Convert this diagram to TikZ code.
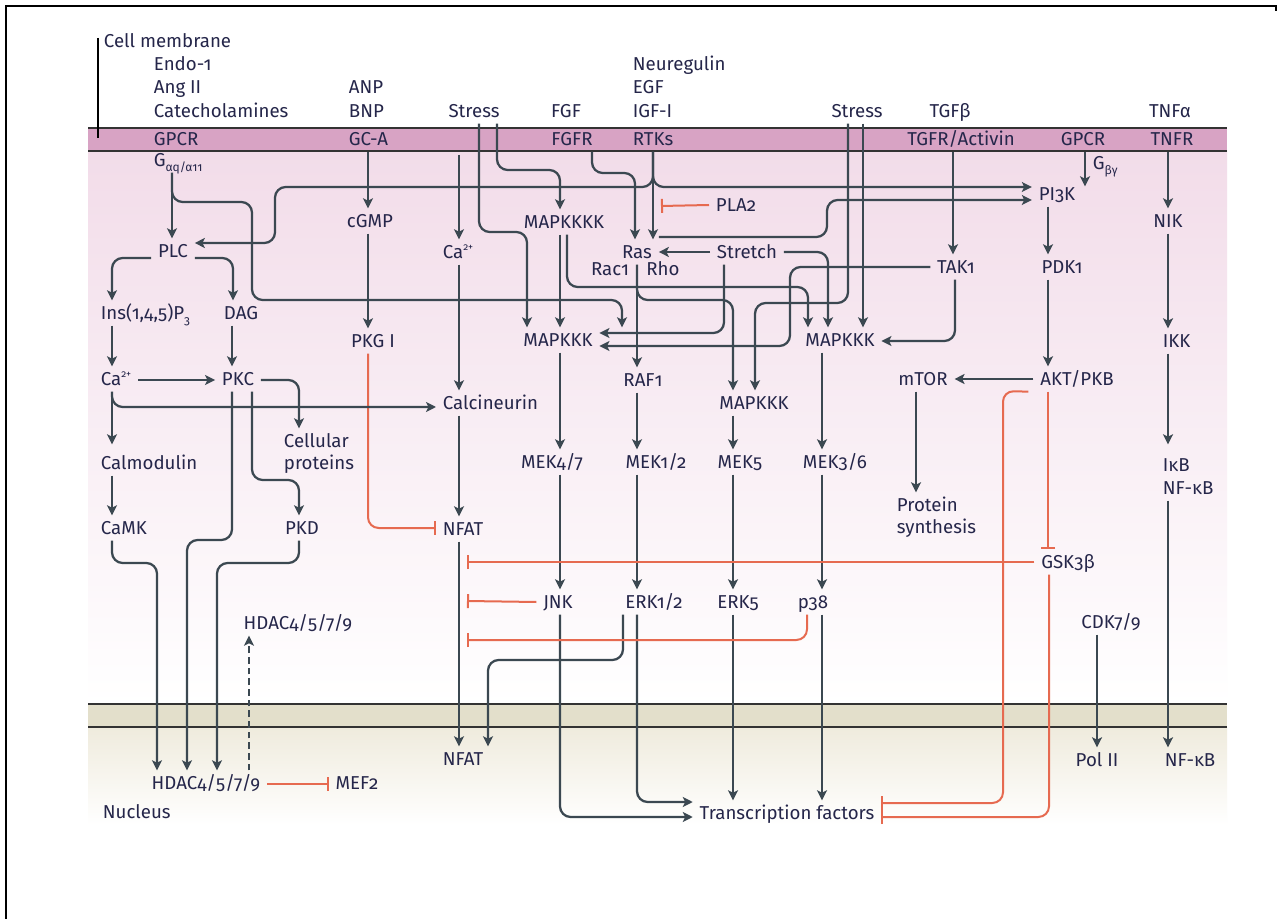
\documentclass[tikz,border=0pt]{standalone}
\usepackage{fontspec}
\setmainfont{Fira Sans}[Numbers=OldStyle]
\usetikzlibrary{arrows.meta,calc}
\definecolor{ln}{HTML}{3B4851}
\definecolor{rd}{HTML}{E66A50}
\definecolor{tx}{HTML}{25264A}
\definecolor{memb}{HTML}{D8A3C4}
\definecolor{cyto}{HTML}{F2DCE9}
\definecolor{nucband}{HTML}{E3DFCB}
\definecolor{nucl}{HTML}{EFEBDD}
\definecolor{bord}{HTML}{333333}
\newcommand\labfont{\fontsize{14}{16.5}\selectfont}
\newcommand\mysub[1]{\raisebox{-0.3em}{\fontsize{9}{10}\selectfont #1}}
\newcommand\mysup[1]{\raisebox{0.42em}{\fontsize{7.5}{8}\selectfont #1}}
\begin{document}
\begin{tikzpicture}[x=0.75pt,y=-0.75pt,
  lab/.style={font=\labfont, text=tx, inner xsep=5pt, inner ysep=4.5pt, text height=9.6pt, text depth=0pt},
  L/.style={lab, anchor=west},
  arr/.style={draw=ln, line width=1.7pt, rounded corners=8pt, -{Stealth[length=7.5pt,width=7.5pt,inset=1.8pt]}},
  inh/.style={draw=rd, line width=1.5pt, rounded corners=8pt, -{Bar[width=10.5pt,line width=1.5pt]}},
  dsh/.style={arr, dash pattern=on 5pt off 3pt}]
\useasboundingbox (0,0) rectangle (1281,919);
\fill[white] (0,0) rectangle (1281,919);
% backgrounds
\shade[top color=cyto, bottom color=white] (88,151) rectangle (1227,704);
\fill[memb] (88,128) rectangle (1227,151);
\draw[bord, line width=1.2pt] (88,128) -- (1227,128) (88,151) -- (1227,151);
\shade[top color=nucl, bottom color=white] (88,727) rectangle (1227,825);
\fill[nucband] (88,704) rectangle (1227,727);
\draw[bord, line width=1.2pt] (88,704) -- (1227,704) (88,727) -- (1227,727);
% frame
\draw[black, line width=1.5pt] (6,919) -- (6,6) -- (1276,6) -- (1276,11);
\draw[black, line width=1pt] (98,38) -- (98,138);

% ---- nodes
\node[L] (cellmem) at (97,41) {Cell membrane};
\node[L] (endo) at (147,64) {Endo-1};
\node[L] (angii) at (147,87) {Ang II};
\node[L] (catech) at (147,111) {Catecholamines};
\node[L] (gpcrA) at (147,139) {GPCR};
\node[L] (gq) at (147,160) {G\mysub{αq/α11}};
\node[L] (anp) at (342,87) {ANP};
\node[L] (bnp) at (342,111) {BNP};
\node[L] (gca) at (342,139) {GC-A};
\node[lab] (stressA) at (474,111) {Stress};
\node[lab] (fgf) at (566,111) {FGF};
\node[lab] (fgfr) at (572,139) {FGFR};
\node[L] (neureg) at (626,64) {Neuregulin};
\node[L] (egf) at (626,87) {EGF};
\node[L] (igf) at (626,111) {IGF-I};
\node[L] (rtks) at (626,139) {RTKs};
\node[lab] (stressB) at (857,111) {Stress};
\node[lab] (tgfb) at (950,111) {TGFβ};
\node[lab] (tgfr) at (961,139) {TGFR/Activin};
\node[lab] (gpcrB) at (1083,139) {GPCR};
\node[lab] (tnfa) at (1170,111) {TNFα};
\node[lab] (tnfr) at (1172,139) {TNFR};
\node[L] (gby) at (1086,163) {G\mysub{βγ}};

\node[lab] (pi3k) at (1057,194) {PI3K};
\node[lab] (nik) at (1168,221) {NIK};
\node[L] (pla2) at (709,205) {PLA2};
\node[lab] (cgmp) at (370,221) {cGMP};
\node[lab] (mapkkkk) at (564,222) {MAPKKKK};
\node[lab] (plc) at (173,251) {PLC};
\node[L] (camid) at (436,252) {Ca\mysup{2+}};
\node[lab] (ras) at (637,252) {Ras};
\node[lab] (stretch) at (747,252) {Stretch};
\node[lab] (rac1) at (610,269) {Rac1};
\node[lab] (rho) at (663,269) {Rho};
\node[lab] (tak1) at (956,267) {TAK1};
\node[lab] (pdk1) at (1062,267) {PDK1};
\node[L] (ins) at (94,313) {Ins(1,4,5)P\mysub{3}};
\node[lab] (dag) at (241,313) {DAG};
\node[lab] (pkgi) at (373,341) {PKG I};
\node[lab] (mapkkkA) at (558,340) {MAPKKK};
\node[lab] (mapkkkC) at (840,340) {MAPKKK};
\node[L] (ikk) at (1156,341) {IKK};
\node[L] (caleft) at (94,379) {Ca\mysup{2+}};
\node[lab] (pkc) at (238,379) {PKC};
\node[lab] (raf1) at (643,380) {RAF1};
\node[lab] (mtor) at (923,379) {mTOR};
\node[lab] (akt) at (1077,379) {AKT/PKB};
\node[L] (calcin) at (436,403) {Calcineurin};
\node[lab] (mapkkkB) at (754,403) {MAPKKK};
\node[L] (cellpA) at (277,441) {Cellular};
\node[L] (cellpB) at (277,463) {proteins};
\node[L] (calmod) at (94,463) {Calmodulin};
\node[lab] (mek47) at (552,462) {MEK4/7};
\node[lab] (mek12) at (656,462) {MEK1/2};
\node[lab] (mek5) at (740,462) {MEK5};
\node[lab] (mek36) at (835,462) {MEK3/6};
\node[L] (ikbA) at (1156,465) {IκB};
\node[L] (ikbB) at (1156,488) {NF-κB};
\node[L] (protA) at (890,505) {Protein};
\node[L] (protB) at (890,527) {synthesis};
\node[L] (camk) at (94,528) {CaMK};
\node[lab] (pkd) at (302,528) {PKD};
\node[L] (nfat1) at (436,529) {NFAT};
\node[lab] (gsk) at (1068,562) {GSK3β};
\node[lab] (jnk) at (558,602) {JNK};
\node[lab] (erk12) at (654,602) {ERK1/2};
\node[lab] (erk5) at (738,602) {ERK5};
\node[lab] (p38) at (813,602) {p38};
\node[lab] (hdac1) at (298,623) {HDAC4/5/7/9};
\node[lab] (cdk) at (1111,622) {CDK7/9};
\node[L] (nfat2) at (436,759) {NFAT};
\node[lab] (pol) at (1097,760) {Pol II};
\node[lab] (nfkb2) at (1190,760) {NF-κB};
\node[lab] (hdac2) at (206,783) {HDAC4/5/7/9};
\node[lab] (mef2) at (357,783) {MEF2};
\node[lab] (tf) at (787,813) {Transcription factors};
\node[L] (nucleus) at (96,812) {Nucleus};

\coordinate (memCa) at (459,155);
\coordinate (pla2t) at (661,206);
\coordinate (nfA) at (467,562);
\coordinate (nfB) at (467,601);
\coordinate (nfC) at (467,640);

% ---- connectors: left part
\draw[arr] (gq.south -| 172,0) -- (plc.north -| 172,0);
\draw[arr] (gq.south -| 172,0) -- (172,202) -- (252,202) -- (252,300) -- (622,300) -- (mapkkkA.north -| 622,0);
\draw[arr] (rtks.south -| 653,0) -- (ras.north -| 653,0);
\draw[arr] (rtks.south -| 653,0) -- (653,187) -- (275,187) -- (275,243) -- (plc.east |- 0,243);
\draw[arr] (rtks.south -| 653,0) -- (653,187) -- (pi3k.west |- 0,187);
\draw[inh] (pla2.west) -- (pla2t);
\draw[arr] (fgfr.south -| 592,0) -- (592,173) -- (635,173) -- (ras.north -| 635,0);
\draw[arr] (stressA.south -| 479,0) -- (479,232) -- (527,232) -- (mapkkkA.north -| 527,0);
\draw[arr] (stressA.south -| 497,0) -- (497,170) -- (560,170) -- (mapkkkk.north -| 560,0);
\draw[arr] (memCa) -- (camid.north -| 459,0);
\draw[arr] (camid.south -| 459,0) -- (calcin.north -| 459,0);
\draw[arr] (calcin.south -| 459,0) -- (nfat1.north -| 459,0);
\draw[arr] (nfat1.south -| 459,0) -- (nfat2.north -| 459,0);
\draw[arr] (gca.south -| 368,0) -- (cgmp.north -| 368,0);
\draw[arr] (cgmp.south -| 368,0) -- (pkgi.north -| 368,0);
\draw[inh] (pkgi.south -| 368,0) -- (368,528) -- (nfat1.west |- 0,528);
\draw[arr] (plc.west |- 0,258) -- (112,258) -- (ins.north -| 112,0);
\draw[arr] (plc.east |- 0,258) -- (233,258) -- (dag.north -| 233,0);
\draw[arr] (ins.south -| 112,0) -- (caleft.north -| 112,0);
\draw[arr] (dag.south -| 232,0) -- (pkc.north -| 232,0);
\draw[arr] (caleft.east |- 0,380) -- (pkc.west |- 0,380);
\draw[arr] (caleft.south -| 112,0) -- (112,407) -- (calcin.west |- 0,407);
\draw[arr] (caleft.south -| 112,0) -- ($(calmod.north -| 112,0)+(0,-6)$);
\draw[arr] (calmod.south -| 112,0) -- (camk.north -| 112,0);
\draw[arr] (camk.south -| 112,0) -- (112,563) -- (157,563) -- (hdac2.north -| 157,0);
\draw[arr] (pkc.south -| 232,0) -- (232,540) -- (187,540) -- (hdac2.north -| 187,0);
\draw[arr] (pkc.south -| 252,0) -- (252,480) -- (299,480) -- (pkd.north -| 299,0);
\draw[arr] (pkc.east |- 0,380) -- (299,380) -- (cellpA.north -| 299,0);
\draw[arr] (pkd.south -| 299,0) -- (299,563) -- (217,563) -- (hdac2.north -| 217,0);
\draw[dsh] (hdac2.north -| 249,0) -- (hdac1.south -| 249,0);
\draw[inh] (hdac2.east |- 0,784) -- (mef2.west |- 0,784);

% ---- MAPK part
\draw[arr] (mapkkkk.south -| 560,0) -- (mapkkkA.north -| 560,0);
\draw[arr] (mapkkkk.south -| 567,0) -- (567,287) -- (808,287) -- (mapkkkC.north -| 808,0);
\draw[arr] (ras.south -| 637,0) -- (raf1.north -| 637,0);
\draw[arr] (ras.south -| 637,0) -- (637,300) -- (733,300) -- (mapkkkB.north -| 733,0);
\draw[arr] (stretch.west) -- (ras.east);
\draw[arr] (stretch.east) -- (828,252) -- (mapkkkC.north -| 828,0);
\draw[arr] (stretch.south -| 724,0) -- (724,333) -- (mapkkkA.east |- 0,333);
\draw[arr] (tak1.west) -- (790,267) -- (790,346) -- (mapkkkA.east |- 0,346);
\draw[arr] (tak1.south -| 955,0) -- (955,341) -- (mapkkkC.east |- 0,341);
\draw[arr] (tgfr.south -| 953,0) -- (tak1.north -| 953,0);
\draw[arr] (stressB.south -| 848,0) -- (848,303) -- (755,303) -- (mapkkkB.north -| 755,0);
\draw[arr] (stressB.south -| 863,0) -- (mapkkkC.north -| 863,0);
\draw[arr] (ras.east |- 0,237) -- (827,237) -- (827,200) -- (pi3k.west |- 0,200);

\draw[arr] (mapkkkA.south -| 560,0) -- (mek47.north -| 560,0);
\draw[arr] (mek47.south -| 560,0) -- (jnk.north -| 560,0);
\draw[arr] (raf1.south -| 637,0) -- (mek12.north -| 637,0);
\draw[arr] (mek12.south -| 637,0) -- (erk12.north -| 637,0);
\draw[arr] (mapkkkB.south -| 733,0) -- (mek5.north -| 733,0);
\draw[arr] (mek5.south -| 733,0) -- (erk5.north -| 733,0);
\draw[arr] (mapkkkC.south -| 822,0) -- (mek36.north -| 822,0);
\draw[arr] (mek36.south -| 822,0) -- (p38.north -| 822,0);
\draw[arr] (erk12.south -| 623,0) -- (623,660) -- (488,660) -- (nfat2.north -| 488,0);
\draw[arr] (erk12.south -| 637,0) -- (637,802) -- (tf.west |- 0,802);
\draw[arr] (jnk.south -| 560,0) -- (560,817) -- (tf.west |- 0,817);
\draw[arr] (erk5.south -| 733,0) -- (tf.north -| 733,0);
\draw[arr] (p38.south -| 822,0) -- (tf.north -| 822,0);
\draw[inh] (gsk.west) -- (nfA);
\draw[inh] (jnk.west) -- (nfB);
\draw[inh] (p38.south -| 807,0) -- (807,640) -- (nfC);

% ---- right part
\draw[arr] (gpcrB.south -| 1085,0) -- ($(pi3k.north -| 1085,0)+(0,5)$);
\draw[arr] (pi3k.south -| 1048,0) -- (pdk1.north -| 1048,0);
\draw[arr] (pdk1.south -| 1048,0) -- (akt.north -| 1048,0);
\draw[arr] (akt.west) -- (mtor.east);
\draw[arr] (mtor.south -| 916,0) -- (protA.north -| 916,0);
\draw[inh] (akt.south -| 1048,0) -- (gsk.north -| 1048,0);
\draw[inh] ($(akt.south west)+(-5,0)$) -- (1003,391) -- (1003,803) -- (tf.east |- 0,803);
\draw[inh] (gsk.south -| 1049,0) -- (1049,817) -- (tf.east |- 0,817);
\draw[arr] (tnfr.south -| 1168,0) -- (nik.north -| 1168,0);
\draw[arr] (nik.south -| 1168,0) -- (ikk.north -| 1168,0);
\draw[arr] (ikk.south -| 1168,0) -- ($(ikbA.north -| 1168,0)+(0,-8)$);
\draw[arr] (ikbB.south -| 1168,0) -- (nfkb2.north -| 1168,0);
\draw[arr] (cdk.south -| 1097,0) -- (pol.north -| 1097,0);
\end{tikzpicture}
\end{document}
